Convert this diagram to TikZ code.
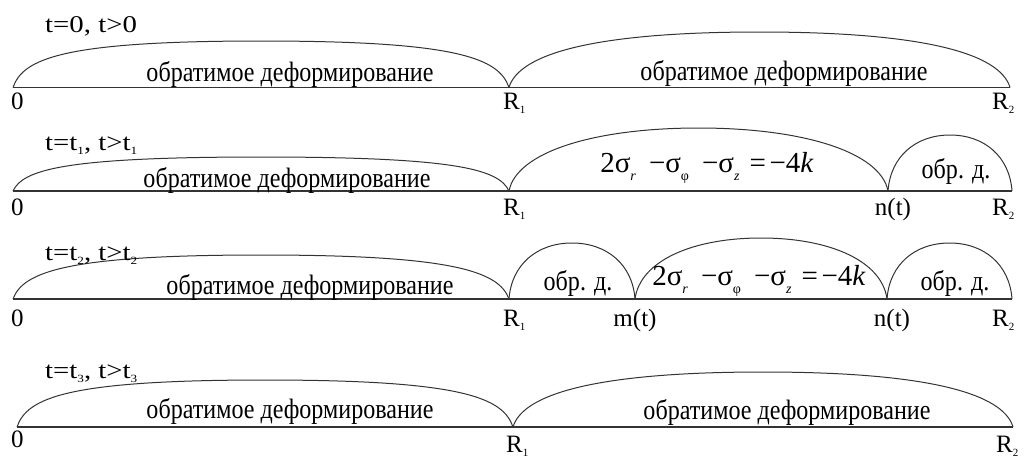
\documentclass[tikz,border=0pt]{standalone}
\usepackage{fontspec}
\setmainfont{Liberation Serif}
\usetikzlibrary{calc}
\newcommand\lowsub[2][0.18em]{\raisebox{-#1}{\fontsize{11}{11}\selectfont #2}}
\newcommand\fsub[1]{\raisebox{-0.3em}{\fontsize{14}{14}\selectfont #1}}
\newcommand\formula{2σ\fsub{\textit{r}}\hspace{0.45em}−σ\fsub{φ}\hspace{0.45em}−σ\fsub{\textit{z}}\hspace{0.35em}=\hspace{0.12em}−4\textit{k}}
\newcommand\phr[1]{\scalebox{0.86}[1]{#1}}
\newcommand\hd[1]{\scalebox{1.2}[1]{#1}}
\newcommand\hump[4]{%
  \draw[humpline] let \p1=(#1), \p2=(#2), \n1={(\x2-\x1)/2} in
    (\p1) .. controls ({\x1+0.04*\n1*1pt},{\y1+0.62*#3pt}) and ({\x1+\n1*1pt-#4*\n1*1pt},{\y1+#3pt}) ..
    ({\x1+\n1*1pt},{\y1+#3pt}) .. controls ({\x1+\n1*1pt+#4*\n1*1pt},{\y1+#3pt}) and ({\x2-0.04*\n1*1pt},{\y2+0.62*#3pt}) .. (\p2);}
\begin{document}
\begin{tikzpicture}[x=1pt,y=-1pt,
  baseline/.style={draw=black!80, line width=1.3pt},
  humpline/.style={draw=black!80, line width=1pt},
  lab/.style={inner sep=0pt, anchor=base west, font=\fontsize{25}{28}\selectfont},
  head/.style={inner sep=0pt, anchor=base west, font=\fontsize{24}{28}\selectfont},
  phrase/.style={inner sep=0pt, anchor=base, font=\fontsize{28}{30}\selectfont},
  eqn/.style={inner sep=0pt, anchor=base, font=\fontsize{29}{32}\selectfont}]
\useasboundingbox (0,0) rectangle (1035,459);
% ---------- row 1
\coordinate (o1) at (13,87.5);
\coordinate (ra1) at (509,87.5);
\coordinate (rb1) at (1010,87.5);
\draw[baseline] (o1) -- (rb1);
\hump{o1}{ra1}{46.5}{0.8}
\hump{ra1}{rb1}{55.5}{0.65}
\node[head] (h1) at (45,32) {\hd{t=0, t>0}};
\node[phrase] (p11) at (290,81) {\phr{обратимое деформирование}};
\node[phrase] (p12) at (784,80) {\phr{обратимое деформирование}};
\node[lab] (z1) at (11,109) {0};
\node[lab] (la1) at (503,109) {R\lowsub{1}};
\node[lab] (lb1) at (992,109) {R\lowsub{2}};
% ---------- row 2
\coordinate (o2) at (13,191);
\coordinate (ra2) at (509,191);
\coordinate (n2) at (888,191);
\coordinate (rb2) at (1012,191);
\draw[baseline] (o2) -- (rb2);
\hump{o2}{ra2}{34}{0.8}
\hump{ra2}{n2}{63}{0.55}
\hump{n2}{rb2}{56}{0.55}
\node[head] (h2) at (45,150) {\hd{t=t\lowsub{1}, t>t\lowsub{1}}};
\node[phrase] (p21) at (287,187) {\phr{обратимое деформирование}};
\node[eqn] (e2) at (707,172) {\formula};
\node[phrase] (d2) at (956,178) {\phr{обр. д.}};
\node[lab] (z2) at (11,215) {0};
\node[lab] (la2) at (503,215) {R\lowsub{1}};
\node[lab, anchor=base] (ln2) at (893,215) {n(t)};
\node[lab] (lb2) at (992,215) {R\lowsub{2}};
% ---------- row 3
\coordinate (o3) at (13,299);
\coordinate (ra3) at (509,299);
\coordinate (m3) at (635,299);
\coordinate (n3) at (887,299);
\coordinate (rb3) at (1012,299);
\draw[baseline] (o3) -- (rb3);
\hump{o3}{ra3}{44}{0.78}
\hump{ra3}{m3}{56}{0.55}
\hump{m3}{n3}{61}{0.55}
\hump{n3}{rb3}{56}{0.55}
\node[head] (h3) at (45,260) {\hd{t=t\lowsub{2}, t>t\lowsub{2}}};
\node[phrase] (p31) at (310,294) {\phr{обратимое деформирование}};
\node[phrase] (d31) at (578,290) {\phr{обр. д.}};
\node[eqn] (e3) at (759,285) {\formula};
\node[phrase] (d32) at (955,290) {\phr{обр. д.}};
\node[lab] (z3) at (11,326) {0};
\node[lab] (la3) at (503,326) {R\lowsub{1}};
\node[lab, anchor=base] (lm3) at (635,326) {m(t)};
\node[lab, anchor=base] (ln3) at (892,326) {n(t)};
\node[lab] (lb3) at (992,326) {R\lowsub{2}};
% ---------- row 4
\coordinate (o4) at (17,427);
\coordinate (ra4) at (513,427);
\coordinate (rb4) at (1013,427);
\draw[baseline] (o4) -- (rb4);
\hump{o4}{ra4}{47}{0.8}
\hump{ra4}{rb4}{55}{0.65}
\node[head] (h4) at (45,378) {\hd{t=t\lowsub{3}, t>t\lowsub{3}}};
\node[phrase] (p41) at (290,418) {\phr{обратимое деформирование}};
\node[phrase] (p42) at (787,419) {\phr{обратимое деформирование}};
\node[lab] (z4) at (11,447) {0};
\node[lab] (la4) at (506,452) {R\lowsub{1}};
\node[lab] (lb4) at (996,452) {R\lowsub{2}};
\end{tikzpicture}
\end{document}
